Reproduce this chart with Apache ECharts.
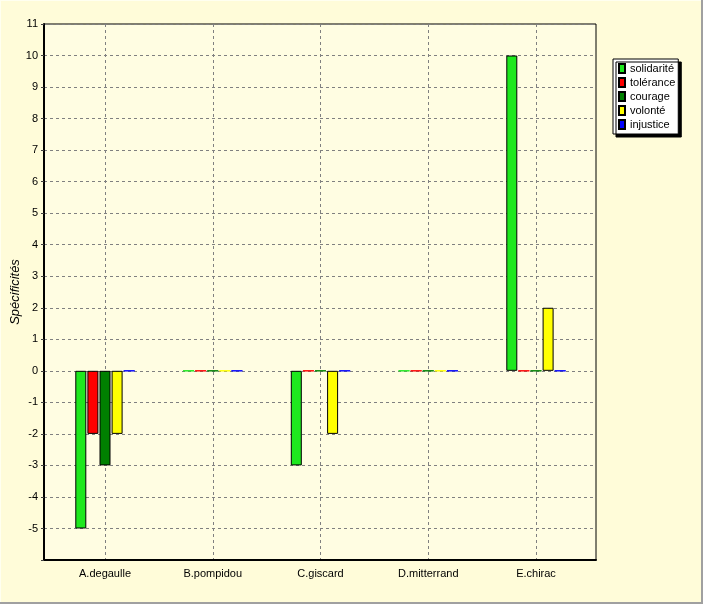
<!DOCTYPE html>
<html>
<head>
<meta charset="utf-8">
<script src="https://cdn.jsdelivr.net/npm/echarts@6/dist/echarts.min.js"></script>
<style>
  html, body { margin: 0; padding: 0; }
  #chart {
    width: 703px;
    height: 604px;
    background: #FFFCD9;
    box-shadow: inset -2px -2px 0 #a0a0a0, inset 1px 1px 0 #fffff0;
  }
</style>
</head>
<body>
<div id="chart"></div>
<script>
// Chart data
const categories = ['A.degaulle', 'B.pompidou', 'C.giscard', 'D.mitterrand', 'E.chirac'];
const seriesNames = ['solidarité', 'tolérance', 'courage', 'volonté', 'injustice'];
const seriesColors = ['#1ee81e', '#ff0000', '#008000', '#ffff00', '#0000ff'];
const solidarite = [-5, 0, -3, 0, 10];
const tolerance = [-2, 0, 0, 0, 0];
const courage = [-3, 0, 0, 0, 0];
const volonte = [-2, 0, -2, 0, 2];
const injustice = [0, 0, 0, 0, 0];
const yMin = -6;
const yMax = 11;

const FONT = 'Liberation Sans, Arial, sans-serif';
const seriesValues = [solidarite, tolerance, courage, volonte, injustice];

// zero bars show as a thin line in the series colour
function buildData(values, color) {
  return values.map(v => v === 0 ? { value: 0, itemStyle: { borderColor: color } } : v);
}

const chart = echarts.init(document.getElementById('chart'));

const option = {
  animation: false,
  backgroundColor: 'transparent',
  textStyle: { fontFamily: FONT },
  grid: [
    // bars: spans the category centres
    { left: 105, right: 167, top: 24, bottom: 44, show: false, outerBoundsMode: 'none' },
    // frame of the plot area
    { left: 44, right: 107, top: 24, bottom: 44, show: true, outerBoundsMode: 'none',
      backgroundColor: '#FFFDE2', borderColor: '#000', borderWidth: 1 }
  ],
  legend: {
    orient: 'vertical',
    left: 613,
    top: 59,
    icon: 'rect',
    itemWidth: 6,
    itemHeight: 9,
    itemGap: 3,
    padding: [4, 3, 4, 5],
    backgroundColor: '#fff',
    borderColor: '#000',
    borderWidth: 1,
    shadowColor: '#000',
    shadowBlur: 0,
    shadowOffsetX: 3,
    shadowOffsetY: 3,
    textStyle: { fontSize: 11, color: '#000', fontFamily: FONT },
    data: seriesNames
  },
  xAxis: [
    {
      type: 'category',
      gridIndex: 0,
      data: categories,
      boundaryGap: false,
      axisLine: { show: false },
      axisTick: { show: false },
      axisLabel: { margin: 8, fontSize: 11, color: '#000', fontFamily: FONT },
      splitLine: { show: true, lineStyle: { color: '#808080', type: [3, 3], width: 1 } }
    },
    {
      type: 'value',
      gridIndex: 1,
      min: 0,
      max: 1,
      axisLine: { show: true, onZero: false, lineStyle: { color: '#000', width: 2 } },
      axisTick: { show: false },
      axisLabel: { show: false },
      splitLine: { show: false }
    }
  ],
  yAxis: [
    {
      type: 'value',
      gridIndex: 0,
      min: yMin,
      max: yMax,
      interval: 1,
      offset: 61,
      name: 'Spécificités',
      nameLocation: 'middle',
      nameGap: 22,
      nameMoveOverlap: false,
      nameTextStyle: { fontSize: 13, fontStyle: 'italic', color: '#000', fontFamily: FONT },
      axisLine: { show: true, onZero: false, lineStyle: { color: '#000', width: 2 } },
      axisTick: { show: true, length: 3, lineStyle: { color: '#404040' } },
      axisLabel: {
        margin: 6, fontSize: 11, color: '#000', fontFamily: FONT,
        formatter: v => v === yMin ? '' : String(v)
      },
      splitLine: { show: false }
    },
    {
      type: 'value',
      gridIndex: 1,
      min: yMin,
      max: yMax,
      interval: 1,
      axisLine: { show: false },
      axisTick: { show: false },
      axisLabel: { show: false },
      splitLine: { show: true, lineStyle: { color: '#808080', type: [3, 3], width: 1 } }
    }
  ],
  series: seriesNames.map((name, i) => ({
    name: name,
    type: 'bar',
    xAxisIndex: 0,
    yAxisIndex: 0,
    barWidth: 11,
    barGap: '10%',
    clip: false,
    itemStyle: { color: seriesColors[i], borderColor: '#000', borderWidth: 1 },
    data: buildData(seriesValues[i], seriesColors[i])
  }))
};

chart.setOption(option);
</script>
</body>
</html>
